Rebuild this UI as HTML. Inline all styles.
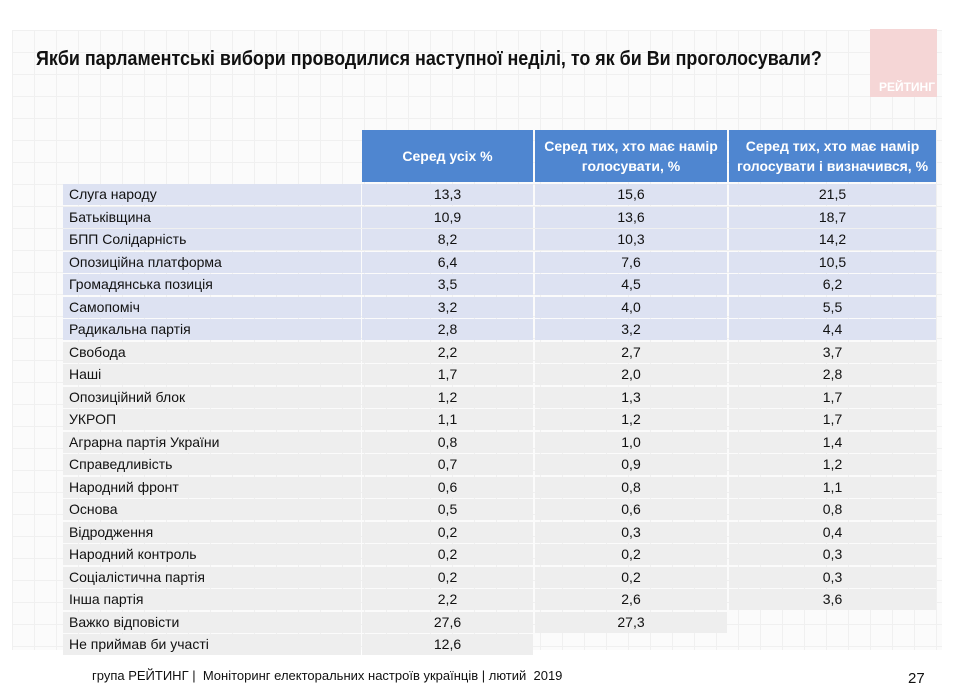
<!DOCTYPE html>
<html><head><meta charset="utf-8"><style>
body{margin:0;width:960px;height:690px;background:#fff;position:relative;overflow:hidden;font-family:"Liberation Sans Narrow","Liberation Sans",sans-serif;color:#111}
.bg{position:absolute;left:12px;top:30px;width:930px;height:620px;background-color:#fbfbfb;background-image:linear-gradient(#f0f0f0 1px,transparent 1px),linear-gradient(90deg,#f0f0f0 1px,transparent 1px);background-size:22px 22px}
.t{position:absolute;left:36px;top:48px;font-weight:bold;font-size:20px;white-space:nowrap;transform-origin:left top;transform:scaleX(0.895)}
.logo{position:absolute;left:870px;top:29px;width:67px;height:68px;background:#f5d6d6}
.logo span{position:absolute;right:2px;bottom:3px;color:#fff;font-weight:bold;font-size:12px}
.h{position:absolute;top:130px;height:52px;background:#4f86d0;color:#fff;font-weight:bold;font-size:14px;display:flex;align-items:center;justify-content:center;text-align:center;line-height:20px}
.c{position:absolute;height:21px;line-height:21px;font-size:14px}
.n{text-align:center}
.f{position:absolute;top:668px;font-size:13px}
</style></head><body>
<div class="bg"></div>
<div class="t">Якби парламентські вибори проводилися наступної неділі, то як би Ви проголосували?</div>
<div class="logo"><span>РЕЙТИНГ</span></div>
<div class="h" style="left:362px;width:171px">Серед усіх %</div>
<div class="h" style="left:535px;width:192px">Серед тих, хто має намір<br>голосувати, %</div>
<div class="h" style="left:729px;width:207px">Серед тих, хто має намір<br>голосувати і визначився, %</div>
<div id="rows"></div>
<script>
var d=[["Слуга народу","13,3","15,6","21,5"],["Батьківщина","10,9","13,6","18,7"],["БПП Солідарність","8,2","10,3","14,2"],["Опозиційна платформа","6,4","7,6","10,5"],["Громадянська позиція","3,5","4,5","6,2"],["Самопоміч","3,2","4,0","5,5"],["Радикальна партія","2,8","3,2","4,4"],["Свобода","2,2","2,7","3,7"],["Наші","1,7","2,0","2,8"],["Опозиційний блок","1,2","1,3","1,7"],["УКРОП","1,1","1,2","1,7"],["Аграрна партія України","0,8","1,0","1,4"],["Справедливість","0,7","0,9","1,2"],["Народний фронт","0,6","0,8","1,1"],["Основа","0,5","0,6","0,8"],["Відродження","0,2","0,3","0,4"],["Народний контроль","0,2","0,2","0,3"],["Соціалістична партія","0,2","0,2","0,3"],["Інша партія","2,2","2,6","3,6"],["Важко відповісти","27,6","27,3",null],["Не приймав би участі","12,6",null,null]];
var cols=[[63,298],[362,171],[535,192],[729,207]],h="";
d.forEach(function(r,i){var top=184+i*22.5,bg=i<7?"#dde2f2":"#eeeeee";
for(var j=0;j<4;j++){if(r[j]===null)continue;
h+='<div class="c'+(j?' n':'')+'" style="top:'+top+'px;left:'+cols[j][0]+'px;width:'+(cols[j][1]-(j?0:6))+'px;background:'+bg+';'+(j?'':'padding-left:6px;')+'">'+r[j]+'</div>';}});
document.getElementById("rows").innerHTML=h;
</script>
<div class="f" style="left:92px">група РЕЙТИНГ |&nbsp; Моніторинг електоральних настроїв українців | лютий&nbsp; 2019</div>
<div class="f" style="left:908px;font-size:15px;top:670px">27</div>
</body></html>
